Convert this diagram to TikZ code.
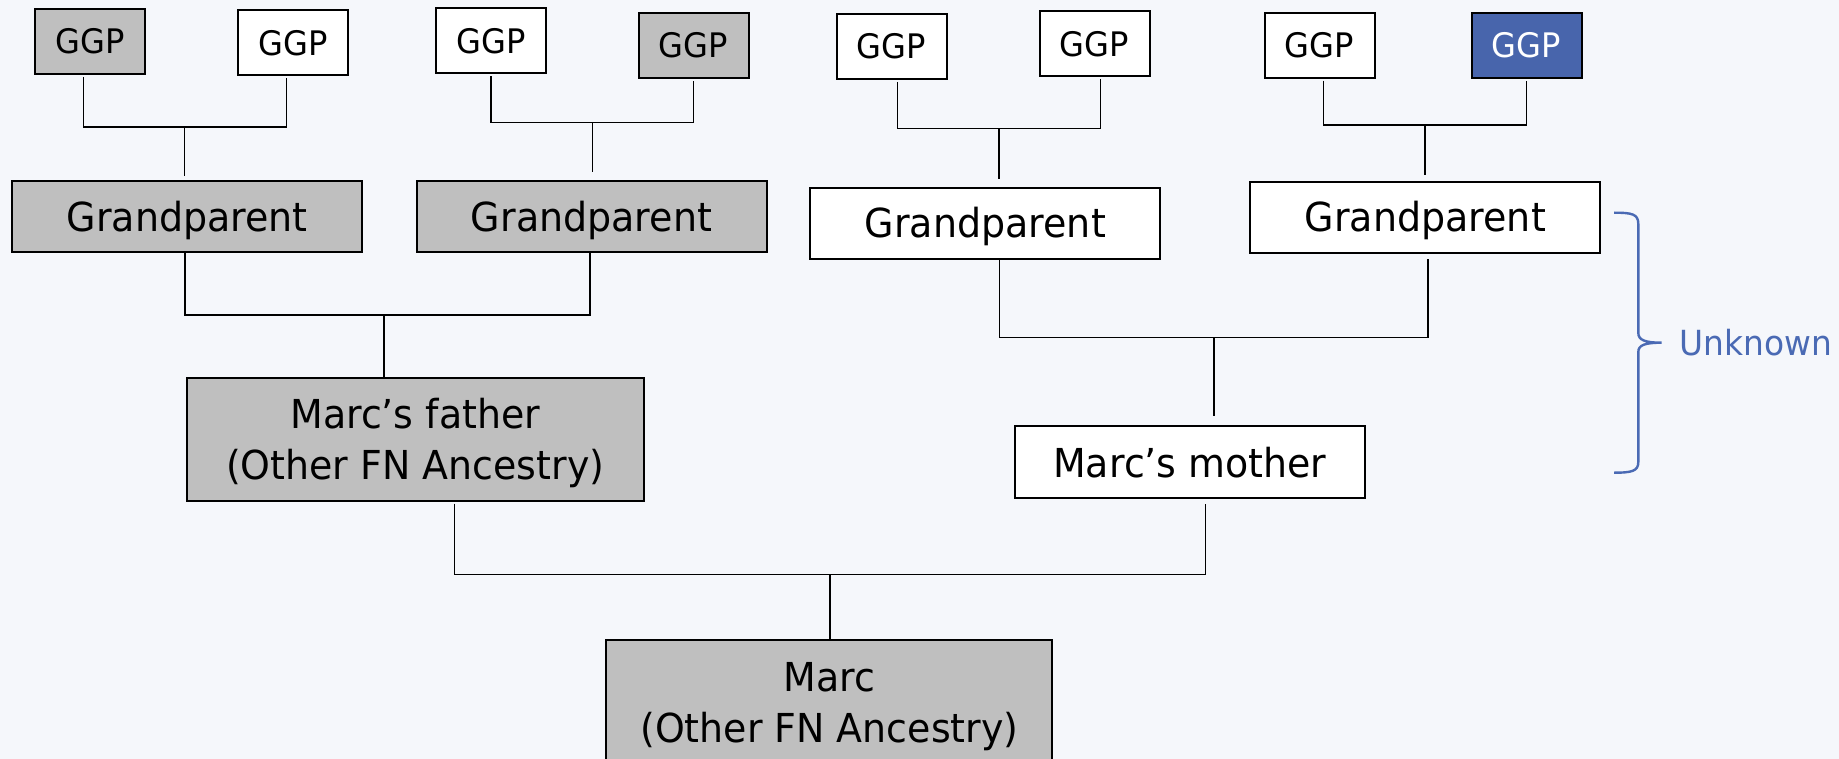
\documentclass[tikz,border=0pt]{standalone}
\usepackage{fontspec}
\setmainfont{DejaVu Sans}[FakeStretch=0.95]
\usepackage{tikz}
\usetikzlibrary{calc}

\definecolor{pagebg}{RGB}{245,247,251}
\definecolor{knowngray}{RGB}{191,191,191}
\definecolor{markblue}{RGB}{72,101,172}
\definecolor{bracecol}{RGB}{74,106,180}

\tikzset{
  person/.style={draw=black, line width=1pt, inner sep=0pt, align=center, fill=white},
  known/.style={fill=knowngray},
  ggpbox/.style={person, minimum width=55pt, minimum height=32.5pt, font=\fontsize{16.9}{20}\selectfont},
  gpbox/.style={person, minimum width=175pt, minimum height=35.7pt, text height=14.6pt, text depth=0pt, font=\fontsize{20}{24}\selectfont},
  bigbox/.style={person, text depth=0pt, font=\fontsize{19.95}{25.4}\selectfont},
  link/.style={line width=0.7pt},
}

\begin{document}
\begin{tikzpicture}[x=0.5pt, y=-0.5pt]
    % Page
    \useasboundingbox (0,0) rectangle (1839,759);
    \fill[pagebg] (0,0) rectangle (1839,759);

    % Great-grandparents
    \node[ggpbox, known] (g1) at (89.8,41.3) {GGP};
    \node[ggpbox] (g2) at (292.9,43) {GGP};
    \node[ggpbox] (g3) at (491,41) {GGP};
    \node[ggpbox, known] (g4) at (693.5,45.5) {GGP};
    \node[ggpbox] (g5) at (891.5,46.3) {GGP};
    \node[ggpbox] (g6) at (1094.5,43.7) {GGP};
    \node[ggpbox] (g7) at (1319.5,45.2) {GGP};
    \node[ggpbox, fill=markblue, text=white] (g8) at (1526.5,45.5) {GGP};

    % Grandparents
    \node[gpbox, known] (p1) at (187.2,216.7) {Grandparent};
    \node[gpbox, known] (p2) at (591.5,216.7) {Grandparent};
    \node[gpbox] (p3) at (985.3,223.3) {Grandparent};
    \node[gpbox] (p4) at (1425.3,217.3) {Grandparent};

    % Parents and Marc
    \node[bigbox, known, minimum width=228.5pt, minimum height=61.5pt] (father) at (415.2,439.2) {Marc’s father\\(Other FN Ancestry)};
    \node[bigbox, minimum width=175pt, minimum height=35.8pt] (mother) at (1189.9,461.9) {Marc’s mother};
    \node[bigbox, known, minimum width=223pt, minimum height=62.5pt] (marc) at (829.4,702.5) {Marc\\(Other FN Ancestry)};

    % Junctions on the family bars
    \coordinate (j1) at (184.7,127);
    \coordinate (j2) at (592.3,122.3);
    \coordinate (j3) at (998.8,128.7);
    \coordinate (j4) at (1425,125);
    \coordinate (j5) at (383.8,315);
    \coordinate (j6) at (1213.8,337.3);
    \coordinate (j7) at (829.8,574.7);

    % Family lines
    \draw[link, shorten <=1pt, shorten >=1pt] ([xshift=-3.3pt]g1.south) |- (j1) -| ([xshift=-3.35pt]g2.south);
    \draw[link, shorten >=2pt] (j1) -- (j1 |- p1.north);
    \draw[link, shorten <=1pt, shorten >=1pt] (g3.south) |- (j2) -| (g4.south);
    \draw[link, shorten >=4pt] (j2) -- (j2 |- p2.north);
    \draw[link, shorten <=1pt, shorten >=1pt] ([xshift=2.95pt]g5.south) |- (j3) -| ([xshift=2.85pt]g6.south);
    \draw[link, shorten >=4pt] (j3) -- (j3 |- p3.north);
    \draw[link, shorten <=1pt, shorten >=1pt] ([xshift=2pt]g7.south) |- (j4) -| (g8.south);
    \draw[link, shorten >=3pt] (j4) -- (j4 |- p4.north);

    \draw[link] ([xshift=-1.2pt]p1.south) |- (j5) -| ([xshift=-0.85pt]p2.south);
    \draw[link] (j5) -- (j5 |- father.north);
    \draw[link, shorten >=2.5pt] ([xshift=7pt]p3.south) |- (j6) -| ([xshift=1.4pt]p4.south);
    \draw[link, shorten >=4.5pt] (j6) -- (j6 |- mother.north);

    \draw[link, shorten <=1pt, shorten >=2.5pt] ([xshift=19.5pt]father.south) |- (j7) -| ([xshift=7.75pt]mother.south);
    \draw[link] (j7) -- (j7 |- marc.north);

    % Brace and label
    \coordinate (btop) at (1614,212.7);
    \coordinate (tip) at (1661.7,342.7);
    \coordinate (bbot) at (1614,472.7);
    \draw[bracecol, line width=1.2pt] (btop) .. controls (1632,212.7) and (1638.3,214) .. (1638.3,224)
        -- (1638.3,333) .. controls (1638.3,340) and (1645,342.7) .. (tip)
        .. controls (1645,342.7) and (1638.3,345) .. (1638.3,352)
        -- (1638.3,462) .. controls (1638.3,471) and (1632,472.7) .. (bbot);
    \node[anchor=west, inner sep=0pt, text=bracecol, font=\fontsize{17.3}{20}\selectfont] (unk) at (1679.3,342.5) {Unknown};

\end{tikzpicture}
\end{document}
